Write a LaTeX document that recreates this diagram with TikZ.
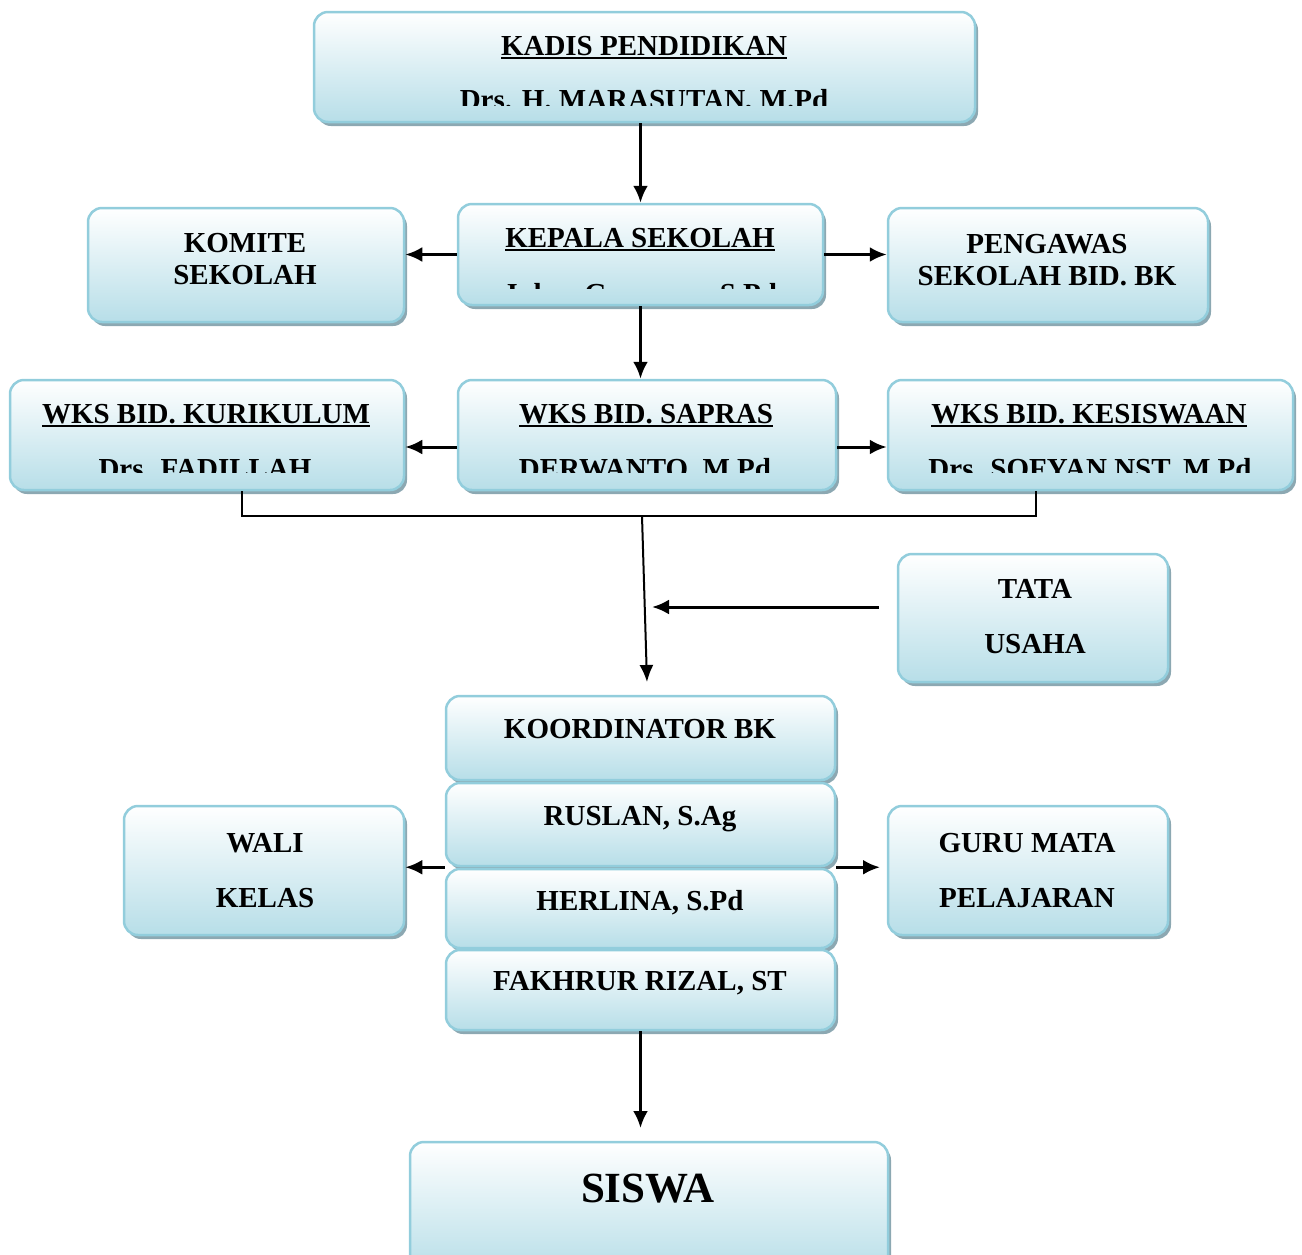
\documentclass[tikz,border=0pt]{standalone}
\usepackage{fontspec}
\setmainfont{Liberation Serif}
\usetikzlibrary{arrows.meta,shadows}
\definecolor{boxline}{RGB}{146,205,220}
\definecolor{boxfill}{RGB}{183,222,232}
\definecolor{boxshade}{RGB}{140,168,178}
\newcommand{\ultitle}[1]{\vtop{\hbox{#1}\kern2pt\hrule height 2pt}}

\begin{document}
\begin{tikzpicture}[x=1pt,y=-1pt,
  unit/.style={draw=boxline, line width=2.5pt, rounded corners=14pt, top color=white, bottom color=boxfill, inner sep=0pt,
    drop shadow={shadow xshift=3pt, shadow yshift=-4pt, fill=boxshade, opacity=1}},
  lbl/.style={anchor=base, inner sep=0pt, align=center, font=\fontsize{29}{32}\selectfont\bfseries},
  link/.style={-{Latex[length=17pt,width=15pt]}, line width=3pt},
  joint/.style={line width=2pt}]
\useasboundingbox (0,0) rectangle (1302,1254);

% boxes
\node[unit, name=kadis, minimum width=661, minimum height=110] at (644.5,67) {};
\node[unit, name=kepala, minimum width=365, minimum height=101] at (640.5,254.5) {};
\node[unit, name=komite, minimum width=316, minimum height=114] at (246,265) {};
\node[unit, name=pengawas, minimum width=320, minimum height=114] at (1048,265) {};
\node[unit, name=kurikulum, minimum width=394, minimum height=110] at (207,435) {};
\node[unit, name=sapras, minimum width=378, minimum height=110] at (647,435) {};
\node[unit, name=kesiswaan, minimum width=405, minimum height=110] at (1090.5,435) {};
\node[unit, name=tata, minimum width=270, minimum height=128] at (1033,618) {};
\node[unit, name=koor, minimum width=389, minimum height=84] at (640.5,738) {};
\node[unit, name=ruslan, minimum width=389, minimum height=83] at (640.5,824.5) {};
\node[unit, name=herlina, minimum width=389, minimum height=79] at (640.5,908.5) {};
\node[unit, name=fakhrur, minimum width=389, minimum height=80] at (640.5,990) {};
\node[unit, name=wali, minimum width=280, minimum height=129] at (264,870.5) {};
\node[unit, name=guru, minimum width=280, minimum height=129] at (1028,870.5) {};
\node[unit, name=siswa, minimum width=478, minimum height=132] at (649,1208) {};

% texts
\node[lbl, name=kadis-t] at (644,55) {\ultitle{KADIS PENDIDIKAN}};
\node[lbl, name=kepala-t] at (640,247) {\ultitle{KEPALA SEKOLAH}};
\node[lbl, name=komite-t] at (245,284) {KOMITE\\SEKOLAH};
\node[lbl, name=pengawas-t] at (1047,285) {PENGAWAS\\SEKOLAH BID. BK};
\node[lbl, name=kurikulum-t] at (206,423) {\ultitle{WKS BID. KURIKULUM}};
\node[lbl, name=sapras-t] at (646,423) {\ultitle{WKS BID. SAPRAS}};
\node[lbl, name=kesiswaan-t] at (1089,423) {\ultitle{WKS BID. KESISWAAN}};
\node[lbl, name=tata-t, font=\fontsize{29}{55}\selectfont\bfseries] at (1035,653) {TATA\\USAHA};
\node[lbl, name=koor-t] at (640,738) {KOORDINATOR BK};
\node[lbl, name=ruslan-t] at (640,825) {RUSLAN, S.Ag};
\node[lbl, name=herlina-t] at (640,910) {HERLINA, S.Pd};
\node[lbl, name=fakhrur-t] at (640,990) {FAKHRUR RIZAL, ST};
\node[lbl, name=wali-t, font=\fontsize{29}{55}\selectfont\bfseries] at (265,907) {WALI\\KELAS};
\node[lbl, name=guru-t, font=\fontsize{29}{55}\selectfont\bfseries] at (1027,907) {GURU MATA\\PELAJARAN};
\node[lbl, name=siswa-t, font=\fontsize{43}{48}\selectfont\bfseries] at (648,1202) {SISWA};

% names cut off at the box edge
\begin{scope}
\clip (320,15) rectangle (970,105);
\node[lbl, name=kadis-n] at (644,109) {Drs. H. MARASUTAN, M.Pd};
\end{scope}
\begin{scope}
\clip (462,208) rectangle (819,288);
\node[lbl, name=kepala-n] at (640,303) {Juhar Gunawan, S.Pd};
\end{scope}
\begin{scope}
\clip (0,384) rectangle (1302,472);
\node[lbl, name=kurikulum-n] at (205,478) {Drs. FADILLAH};
\node[lbl, name=sapras-n] at (645,478) {DERWANTO, M.Pd};
\node[lbl, name=kesiswaan-n] at (1090,478) {Drs. SOFYAN NST, M.Pd};
\end{scope}

% connectors
\coordinate (jl) at (242,516);
\coordinate (jr) at (1036,516);
\coordinate (jm) at (642,516);
\coordinate (koor-in) at (647,682);
\coordinate (tata-in) at (652,607);
\coordinate (guru-in) at (880,0);
\coordinate (siswa-in) at (640.5,1128);

\draw[link] (kadis.south -| kepala.north) -- (kepala.north);
\draw[link] (kepala.west) -- (komite.east |- kepala.west);
\draw[link] (kepala.east) -- (pengawas.west |- kepala.east);
\draw[link] (kepala.south) -- (sapras.north -| kepala.south);
\draw[link] ([yshift=-12pt]sapras.west) -- ([yshift=-12pt]kurikulum.east);
\draw[link] ([yshift=-12pt]sapras.east) -- ([yshift=-12pt]kesiswaan.west);
\draw[joint] (kurikulum.south -| jl) -- (jl) -- (jr) -- (kesiswaan.south -| jr);
\draw[joint, -{Latex[length=17pt,width=14pt]}] (jm) -- (koor-in);
\draw[link] ([xshift=-18pt,yshift=11pt]tata.west) -- (tata-in);
\draw[link] (ruslan.south west) -- (ruslan.south west -| wali.east);
\draw[link] (ruslan.south east) -- (ruslan.south east -| guru-in);
\draw[link] (fakhrur.south) -- (siswa-in);
\end{tikzpicture}
\end{document}
